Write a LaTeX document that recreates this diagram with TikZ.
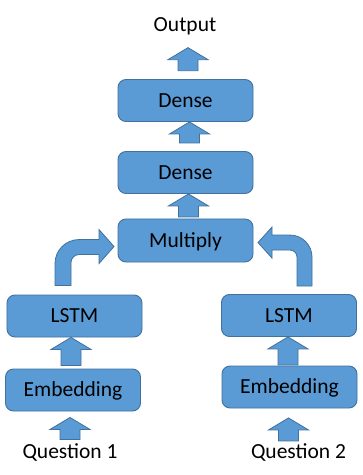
\documentclass[tikz,border=0pt]{standalone}
\usepackage{fontspec}
\setmainfont{Carlito}
\definecolor{boxfill}{HTML}{5B9BD5}
\definecolor{boxedge}{HTML}{41719C}
\newcommand\labelfont{\fontsize{21.5bp}{26bp}\selectfont}
% Block arrow pointing up: #1 = tip, #2 = total length (head is 12 long)
\newcommand\blockup[2]{%
  \draw[blockarrow] #1 -- ++(20,12) -- ++(-10,0) -- ++(0,#2-12)
    -- ++(-20,0) -- ++(0,12-#2) -- ++(-10,0) -- cycle;}
\begin{document}
\begin{tikzpicture}[x=1bp,y=-1bp,
  layer/.style={draw=boxedge, fill=boxfill, line width=0.9bp,
    rounded corners=8bp, minimum width=135bp, minimum height=42bp,
    inner sep=0pt, text height=13.6bp, text depth=0pt, font=\labelfont},
  blockarrow/.style={draw=boxedge, fill=boxfill, line width=0.8bp,
    line join=miter},
  caption/.style={anchor=base, inner sep=0pt, font=\labelfont}]
\fill[white] (0,0) rectangle (362,475);
\useasboundingbox (0,0) rectangle (362,475);

% layers
\node[layer] (dense1) at (185.5,100.5) {Dense};
\node[layer] (dense2) at (185.5,172.5) {Dense};
\node[layer, minimum height=43bp] (mult) at (185.5,240.5) {Multiply};
\node[layer] (lstm1) at (74.5,316) {LSTM};
\node[layer] (lstm2) at (289,315.5) {LSTM};
\node[layer] (emb1) at (73,390) {Embedding};
\node[layer] (emb2) at (289.5,387) {Embedding};

% inputs and output
\node[caption] (out) at (185,32) {Output};
\node[caption] (q1) at (70,458) {Question 1};
\node[caption] (q2) at (298.5,458) {Question 2};

% straight block arrows
\blockup{([xshift=3bp,yshift=-12bp]out.south)}{23}
\blockup{([xshift=4bp]dense1.south)}{21}
\blockup{([xshift=3bp]dense2.south)}{23}
\blockup{([xshift=-3.5bp]lstm1.south)}{28}
\blockup{([xshift=-1bp]lstm2.south)}{28}
\blockup{([xshift=-3bp,yshift=-6bp]emb1.south)}{22}
\blockup{([xshift=-1bp,yshift=-9.5bp]emb2.south)}{23}

% bent arrow from the left LSTM into Multiply
\draw[blockarrow] ([xshift=-19.5bp,yshift=9bp]lstm1.north)
  -- ++(0,-22)
  .. controls +(0,-13.25) and +(-13.25,0) .. ++(24,-24)
  -- ++(20,0) -- ++(0,-10) -- ++(15,17) -- ++(-15,17) -- ++(0,-9)
  -- ++(-20,0)
  .. controls +(-4.4,0) and +(0,-4.4) .. ++(-8,8)
  -- ++(0,23) -- cycle;

% bent arrow from the right LSTM into Multiply
\draw[blockarrow] ([xshift=23bp,yshift=8bp]lstm2.north)
  -- ++(0,-29)
  .. controls +(0,-12.15) and +(12.15,0) .. ++(-22,-22)
  -- ++(-18,0) -- ++(0,-8) -- ++(-14,15.5) -- ++(14,15.5) -- ++(0,-8)
  -- ++(18,0)
  .. controls +(3.9,0) and +(0,-3.9) .. ++(7,7)
  -- ++(0,29) -- cycle;
\end{tikzpicture}
\end{document}
